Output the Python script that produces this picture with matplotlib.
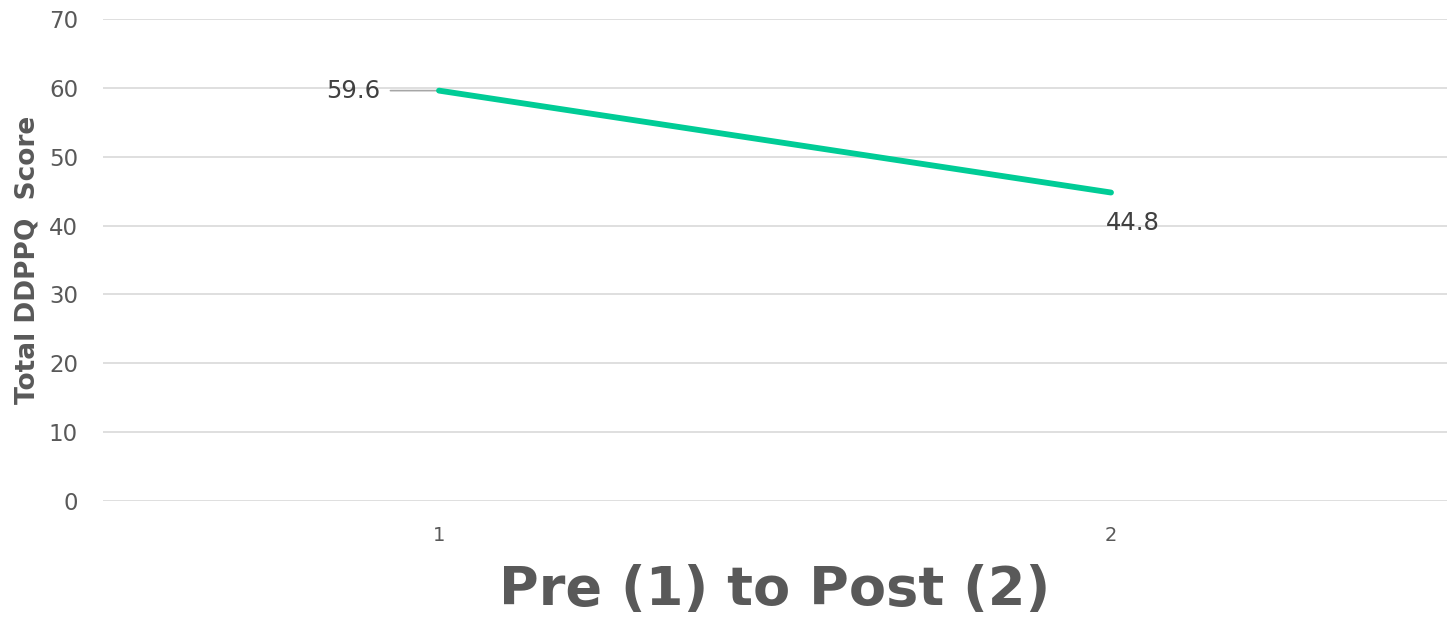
import matplotlib.pyplot as plt

# Data
stages = [1, 2]
scores = [59.6, 44.8]
y_ticks = [0, 10, 20, 30, 40, 50, 60, 70]

TEXT_GREY = "#595959"
LINE_COL = "#00CC96"

fig = plt.figure(figsize=(14.47, 6.21), dpi=100)
ax = fig.add_axes([0.0712, 0.1932, 0.9288, 0.7762])

ax.plot(stages, scores, color=LINE_COL, linewidth=4.2,
        solid_capstyle="round", zorder=5)

ax.set_xlim(0.5, 2.5)
ax.set_ylim(0, 70)
ax.set_yticks(y_ticks)
ax.set_xticks(stages)
ax.set_xticklabels([str(s) for s in stages])
ax.grid(True, axis="y", color="#D9D9D9", linewidth=1.2)
ax.set_axisbelow(True)
for sp in ax.spines.values():
    sp.set_visible(False)
ax.tick_params(axis="y", length=0, labelsize=16.5, labelcolor=TEXT_GREY, pad=18)
ax.tick_params(axis="x", length=0, labelsize=14, labelcolor=TEXT_GREY, pad=18)

# Data labels
ax.annotate(f"{scores[0]}", xy=(stages[0], scores[0]),
            xytext=(-42, 0), textcoords="offset points",
            ha="right", va="center", fontsize=17.5, color="#404040",
            arrowprops=dict(arrowstyle="-", color="#A6A6A6", lw=1.2,
                            shrinkA=5, shrinkB=0))
ax.annotate(f"{scores[1]}", xy=(stages[1], scores[1]),
            xytext=(-3.5, -22), textcoords="offset points",
            ha="left", va="center", fontsize=17.5, color="#404040")

ax.set_ylabel("Total DDPPQ  Score", fontsize=19, fontweight="bold",
              color=TEXT_GREY, labelpad=6)
ax.set_xlabel("Pre (1) to Post (2)", fontsize=39, fontweight="bold",
              color=TEXT_GREY)
ax.xaxis.set_label_coords(0.5, -0.13)

fig.savefig("out.png", dpi=100, facecolor="white")
